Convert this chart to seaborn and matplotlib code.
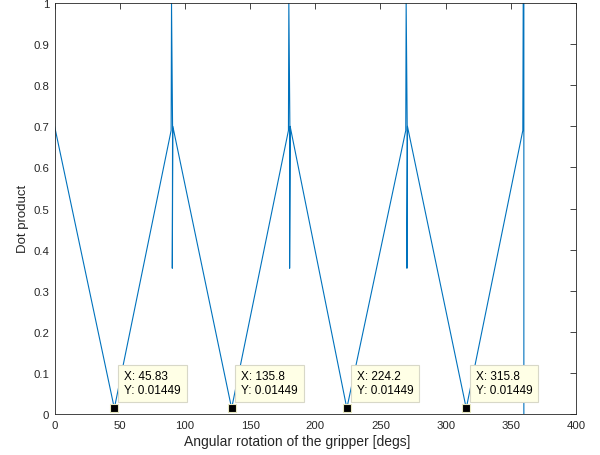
import pandas as pd
import matplotlib
matplotlib.use("Agg")
import matplotlib.pyplot as plt
import seaborn as sns

# curve (path order, spikes near 90/180/270/360)
angle = [0, 45.83, 89.4, 89.7, 90.5, 90.3, 90.7,
         135.8, 179.4, 179.7, 180.5, 180.3, 180.7,
         224.2, 269.4, 269.7, 270.5, 270.3, 270.7,
         315.8, 359.2, 359.5, 360.0, 360.0]
dot = [0.70, 0.01449, 0.69, 1.0, 0.70, 0.355, 0.70,
       0.01449, 0.69, 1.0, 0.70, 0.355, 0.70,
       0.01449, 0.69, 1.0, 0.70, 0.355, 0.70,
       0.01449, 0.69, 1.0, 1.0, 0.0]

# data tips
tip_x = [45.83, 135.8, 224.2, 315.8]
tip_y = [0.01449, 0.01449, 0.01449, 0.01449]
tip_text = ["X: 45.83\nY: 0.01449", "X: 135.8\nY: 0.01449",
            "X: 224.2\nY: 0.01449", "X: 315.8\nY: 0.01449"]

xticks = [0, 50, 100, 150, 200, 250, 300, 350, 400]
yticks = [0, 0.1, 0.2, 0.3, 0.4, 0.5, 0.6, 0.7, 0.8, 0.9, 1]
ytick_labels = ["0", "0.1", "0.2", "0.3", "0.4", "0.5", "0.6", "0.7", "0.8", "0.9", "1"]

sns.set_style("white")
plt.rcParams['font.family'] = ['Liberation Sans', 'DejaVu Sans']

df = pd.DataFrame({"angle": angle, "dot": dot})

fig = plt.figure(figsize=(6, 4.56), dpi=100)
ax = fig.add_axes([0.091, 0.0893, 0.869, 0.902])

sns.lineplot(data=df, x="angle", y="dot", sort=False, estimator=None,
             color="#0072BD", linewidth=0.8, ax=ax)

for x, y, t in zip(tip_x, tip_y, tip_text):
    ax.plot(x, y, marker="s", color="black", markersize=6,
            markeredgecolor="#E8E8C0", markeredgewidth=0.8, zorder=5)
    ax.annotate(t, xy=(x, y), xytext=(7, 9), textcoords="offset points",
                fontsize=8.5, va="bottom", ha="left", linespacing=1.15,
                color="black",
                bbox=dict(boxstyle="square,pad=0.5", fc="#FFFFE6",
                          ec="#D8D8C8", lw=0.8), zorder=6)

ax.set_xlim(0, 400)
ax.set_ylim(0, 1)
ax.set_xticks(xticks)
ax.set_yticks(yticks)
ax.set_yticklabels(ytick_labels)
ax.tick_params(direction="in", length=4, width=0.6, top=True, right=True,
               labelsize=8.2, colors="#262626", pad=4)
for s in ax.spines.values():
    s.set_color("#262626")
    s.set_linewidth(0.6)

ax.set_xlabel("Angular rotation of the gripper [degs]", fontsize=10,
              color="#262626")
ax.set_ylabel("Dot product", fontsize=9.5, color="#262626")
ax.xaxis.set_label_coords(0.465, -0.047)
ax.yaxis.set_label_coords(-0.05, 0.478)

fig.savefig("out.png", dpi=100)
